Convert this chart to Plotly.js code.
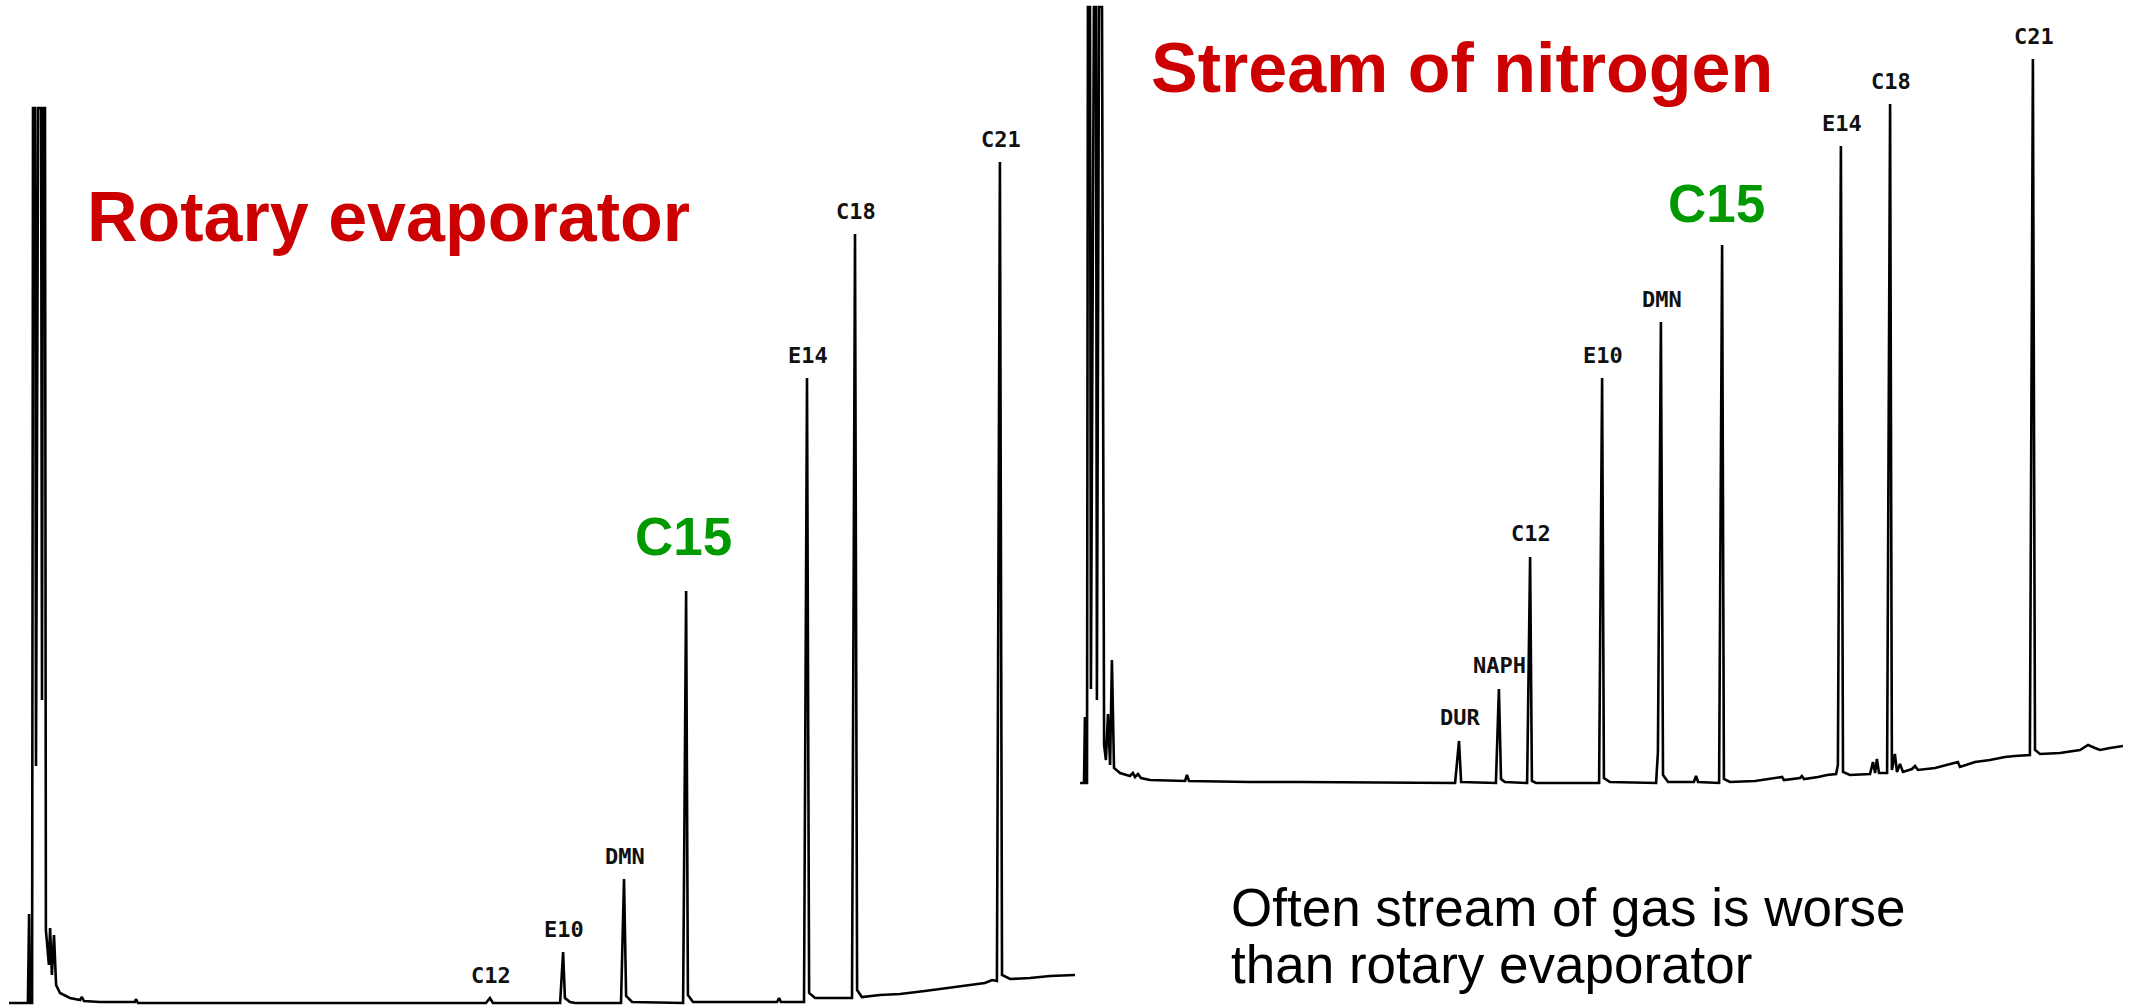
<!DOCTYPE html>
<html>
<head>
<meta charset="utf-8">
<script src="https://cdn.plot.ly/plotly-3.0.1.min.js"></script>
<style>html,body{margin:0;padding:0;background:#fff;}#chart{width:2134px;height:1007px;}</style>
</head>
<body>
<div id="chart"></div>
<script>
// ---- Rotary evaporator chromatogram (retention time, min / detector response) ----
const rotaryTime = [0, 0.63, 0.67, 0.70, 0.77, 0.80, 0.87, 0.90, 0.97, 1.07, 1.10, 1.13, 1.20, 1.23, 1.33, 1.37, 1.43, 1.50, 1.57, 1.70, 2.03, 2.37, 2.43, 2.50, 3.03, 4.20, 4.23, 4.30, 15.90, 16.03, 16.13, 18.37, 18.47, 18.53, 18.70, 18.87, 20.40, 20.50, 20.57, 20.77, 22.47, 22.57, 22.63, 22.80, 25.03, 25.60, 25.67, 25.73, 26.50, 26.60, 26.67, 26.87, 28.10, 28.20, 28.27, 28.43, 29.03, 29.70, 30.53, 31.37, 32.03, 32.53, 32.77, 32.93, 33.03, 33.10, 33.37, 34.03, 34.70, 35.53];
const rotarySignal = [0, 0, 8.9, 0, 0, 89.5, 89.5, 23.7, 89.5, 89.5, 30.3, 89.5, 89.5, 7.3, 3.8, 7.5, 2.8, 6.8, 1.8, 1.0, 0.5, 0.3, 0.6, 0.2, 0.1, 0.1, 0.4, 0, 0, 0.5, 0, 0, 5.1, 0.5, 0.1, 0, 0, 12.4, 0.7, 0.1, 0, 41.2, 0.8, 0.1, 0.1, 0.1, 0.5, 0.1, 0.1, 62.5, 1.0, 0.5, 0.5, 76.9, 1.3, 0.6, 0.8, 0.9, 1.2, 1.5, 1.8, 2.0, 2.3, 2.2, 84.1, 2.8, 2.4, 2.5, 2.7, 2.8];
const rotaryPeakNames = ["C12", "E10", "DMN", "C15", "E14", "C18", "C21"];
const rotaryPeakTime = [16.03, 18.47, 20.50, 22.57, 26.60, 28.20, 33.03];
const rotaryPeakHeight = [0.5, 5.1, 12.4, 41.2, 62.5, 76.9, 84.1];

// ---- Stream of nitrogen chromatogram ----
const nitrogenTime = [1.17, 1.30, 1.33, 1.37, 1.40, 1.43, 1.50, 1.53, 1.63, 1.70, 1.73, 1.80, 1.90, 1.97, 2.03, 2.10, 2.17, 2.23, 2.30, 2.50, 2.83, 2.93, 3.00, 3.10, 3.20, 3.50, 4.67, 4.73, 4.80, 6.83, 8.50, 13.67, 13.80, 13.87, 15.03, 15.13, 15.20, 15.33, 16.07, 16.17, 16.23, 16.37, 18.47, 18.57, 18.63, 18.83, 20.37, 20.43, 20.53, 20.60, 20.77, 21.63, 21.70, 21.77, 22.47, 22.57, 22.63, 22.83, 23.67, 24.10, 24.57, 24.63, 25.17, 25.23, 25.30, 25.77, 26.07, 26.37, 26.43, 26.53, 26.60, 26.83, 27.50, 27.60, 27.67, 27.73, 27.80, 28.07, 28.17, 28.23, 28.33, 28.40, 28.50, 28.60, 28.90, 29.00, 29.10, 29.67, 30.43, 30.50, 31.00, 31.50, 32.00, 32.33, 32.83, 32.93, 33.00, 33.17, 33.83, 34.50, 34.77, 35.00, 35.17, 35.50, 35.93];
const nitrogenSignal = [0, 0, 6.6, 0, 0, 77.6, 77.6, 9.4, 77.6, 77.6, 8.3, 77.6, 77.6, 3.8, 2.3, 6.9, 1.8, 12.3, 1.5, 1.0, 0.7, 1.0, 0.6, 0.9, 0.5, 0.3, 0.2, 0.8, 0.2, 0.1, 0.1, 0, 4.2, 0.1, 0, 9.4, 0.4, 0.1, 0, 22.6, 0.2, 0, 0, 40.5, 0.5, 0.1, 0, 3.1, 46.1, 0.8, 0.1, 0.1, 0.7, 0.1, 0, 53.8, 0.4, 0.1, 0.2, 0.4, 0.6, 0.3, 0.5, 0.7, 0.4, 0.6, 0.8, 0.9, 1.8, 63.7, 1.1, 0.8, 0.9, 2.1, 1.0, 2.4, 1.0, 1.0, 67.9, 1.3, 2.9, 1.1, 1.9, 1.1, 1.4, 1.7, 1.3, 1.5, 2.1, 1.6, 2.1, 2.3, 2.6, 2.7, 2.8, 72.4, 3.3, 2.9, 3.0, 3.3, 3.8, 3.5, 3.3, 3.5, 3.7];
const nitrogenPeakNames = ["DUR", "NAPH", "C12", "E10", "DMN", "C15", "E14", "C18", "C21"];
const nitrogenPeakTime = [13.80, 15.13, 16.17, 18.57, 20.53, 22.57, 26.53, 28.17, 32.93];
const nitrogenPeakHeight = [4.2, 9.4, 22.6, 40.5, 46.1, 53.8, 63.7, 67.9, 72.4];

const panelTitles = ["Rotary evaporator", "Stream of nitrogen"];
const noteLines = ["Often stream of gas is worse", "than rotary evaporator"];
const highlightPeak = "C15";

// ---- styles ----
const RED = "#CC0000", GREEN = "#009A00";
const titleFont = {family: "Liberation Sans, Arial, sans-serif", size: 70, color: RED, weight: 700};
const noteFont = {family: "Liberation Sans, Arial, sans-serif", size: 53, color: "#000"};
const peakFont = {family: "DejaVu Sans Mono, monospace", size: 22, color: "#111", weight: 700};
const bigFont = {family: "Liberation Sans, Arial, sans-serif", size: 53, color: GREEN, weight: 700};

const traces = [
  {x: rotaryTime, y: rotarySignal, xaxis: "x", yaxis: "y", type: "scatter", mode: "lines",
   line: {color: "#000", width: 2.6}, hoverinfo: "skip"},
  {x: nitrogenTime, y: nitrogenSignal, xaxis: "x2", yaxis: "y2", type: "scatter", mode: "lines",
   line: {color: "#000", width: 2.6}, hoverinfo: "skip"}
];

function peakLabels(names, times, heights, xr, yr, bigShift, bigDx) {
  return names.map((n, i) => {
    const big = n === highlightPeak;
    return {
      x: times[i], y: heights[i], xref: xr, yref: yr, text: n, showarrow: false,
      xanchor: "center", yanchor: "middle",
      yshift: big ? bigShift : 23, xshift: big ? bigDx : 1,
      font: big ? bigFont : peakFont
    };
  });
}

const annotations = [
  ...peakLabels(rotaryPeakNames, rotaryPeakTime, rotaryPeakHeight, "x", "y", 55, -3),
  ...peakLabels(nitrogenPeakNames, nitrogenPeakTime, nitrogenPeakHeight, "x2", "y2", 42, -6),
  {x: 0.0400, y: 0.7845, xref: "paper", yref: "paper", xanchor: "left", yanchor: "middle",
   text: panelTitles[0], showarrow: false, font: titleFont},
  {x: 0.5382, y: 0.9325, xref: "paper", yref: "paper", xanchor: "left", yanchor: "middle",
   text: panelTitles[1], showarrow: false, font: titleFont},
  {x: 0.5758, y: 0.0993, xref: "paper", yref: "paper", xanchor: "left", yanchor: "middle",
   text: noteLines[0], showarrow: false, font: noteFont},
  {x: 0.5758, y: 0.0422, xref: "paper", yref: "paper", xanchor: "left", yanchor: "middle",
   text: noteLines[1], showarrow: false, font: noteFont}
];

const hidden = {visible: false, showgrid: false, zeroline: false, fixedrange: true};
const layout = {
  width: 2134, height: 1007,
  margin: {l: 0, r: 0, t: 0, b: 0},
  paper_bgcolor: "#fff", plot_bgcolor: "rgba(0,0,0,0)",
  showlegend: false,
  xaxis: Object.assign({domain: [0, 0.5061], range: [-0.3, 35.7]}, hidden),
  yaxis: Object.assign({domain: [0, 1], range: [-0.4, 100.3]}, hidden),
  xaxis2: Object.assign({domain: [0.5061, 1], range: [1.167, 36.3], anchor: "y2"}, hidden),
  yaxis2: Object.assign({domain: [0.2155, 1], range: [-0.7, 78.3], anchor: "x2"}, hidden),
  annotations: annotations
};

Plotly.newPlot("chart", traces, layout, {displayModeBar: false, staticPlot: true});
</script>
</body>
</html>
